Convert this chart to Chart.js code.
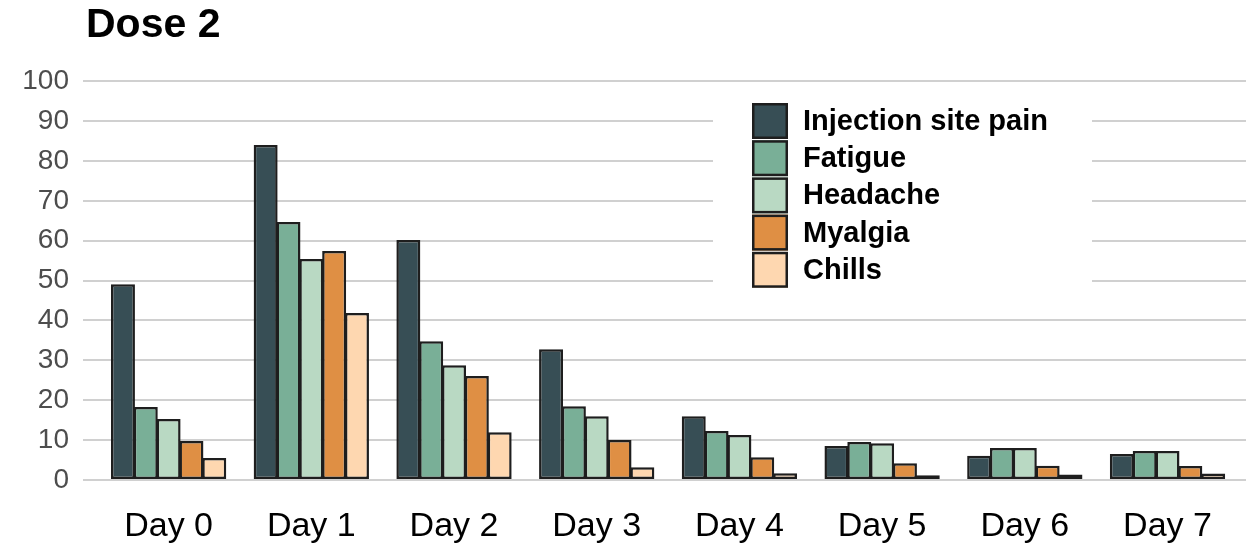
<!DOCTYPE html>
<html>
<head>
<meta charset="utf-8">
<script src="https://cdn.jsdelivr.net/npm/chart.js@4"></script>
<style>
  html, body { margin: 0; padding: 0; background: #fff; }
  #wrap { width: 1246px; height: 550px; }
</style>
</head>
<body>
<div id="wrap"><canvas id="dose2"></canvas></div>
<script>
const day_labels = ['Day 0', 'Day 1', 'Day 2', 'Day 3', 'Day 4', 'Day 5', 'Day 6', 'Day 7'];
const y_ticks = [0, 10, 20, 30, 40, 50, 60, 70, 80, 90, 100];

const injection_site_pain = [49.1, 84.0, 60.2, 32.8, 16.0, 8.5, 6.1, 6.5];
const fatigue = [18.3, 64.7, 34.8, 18.5, 12.3, 9.5, 8.0, 7.3];
const headache = [15.3, 55.4, 28.8, 16.0, 11.3, 9.2, 8.0, 7.3];
const myalgia = [9.8, 57.4, 26.1, 10.0, 5.7, 4.2, 3.6, 3.5];
const chills = [5.5, 41.9, 12.0, 3.2, 1.7, 1.2, 1.4, 1.6];

const series_names = ['Injection site pain', 'Fatigue', 'Headache', 'Myalgia', 'Chills'];
const series_values = [injection_site_pain, fatigue, headache, myalgia, chills];
const series_colors = ['#374e55', '#79af97', '#b9d9c3', '#df8f44', '#fed7b0'];

const font_family = "'Liberation Sans', Arial, Helvetica, sans-serif";

function toPoints(values){
    return values.map((v, i) => ({x: i, y: v}));
}

// legend drawn inside the plot, top right, on a white patch
const insideLegend = {
    id: 'insideLegend',
    afterLayout(chart){
        // nudge the title a little to the right, like the original
        if (chart.titleBlock) chart.titleBlock.left += 3;
    },
    afterDraw(chart){
        const ctx = chart.ctx;
        const x0 = 752, y0 = 103, box = 36, row = 37.2;
        ctx.save();
        ctx.fillStyle = '#ffffff';
        ctx.fillRect(713, 93, 379, 206);
        ctx.font = 'bold 29px ' + font_family;
        ctx.textBaseline = 'middle';
        ctx.textAlign = 'left';
        chart.data.datasets.forEach((ds, i) => {
            const y = y0 + i * row;
            ctx.fillStyle = ds.backgroundColor;
            ctx.fillRect(x0, y, box, box);
            ctx.lineWidth = 2.5;
            ctx.strokeStyle = '#1e1e1e';
            ctx.strokeRect(x0 + 1.25, y + 1.25, box - 2.5, box - 2.5);
            ctx.fillStyle = '#000000';
            ctx.fillText(ds.label, 803, y + box / 2 + 1);
        });
        ctx.restore();
    }
};

const ctx = document.getElementById('dose2').getContext('2d');
const dose2_chart = new Chart(ctx, {
    type: 'bar',
    data: {
        datasets: series_names.map((name, i) => ({
            label: name,
            data: toPoints(series_values[i]),
            backgroundColor: series_colors[i],
            borderColor: '#1e1e1e',
            borderWidth: 2.5,
            borderSkipped: false,
            categoryPercentage: 0.8,
            barPercentage: 1.05
        }))
    },
    options: {
        responsive: true,
        maintainAspectRatio: false,
        animation: false,
        layout: { padding: { left: 0, right: 0, top: 0, bottom: 0 } },
        plugins: {
            legend: { display: false },
            tooltip: { enabled: false },
            title: {
                display: true,
                text: 'Dose 2',
                align: 'start',
                fullSize: false,
                color: '#000000',
                font: { family: font_family, size: 41, weight: 'bold' },
                padding: { top: 1, bottom: 31 }
            }
        },
        scales: {
            x: {
                type: 'linear',
                offset: false,
                min: -0.6,
                max: 7.55,
                grid: { display: false, drawTicks: false, offset: false },
                border: { display: false },
                afterBuildTicks(scale){
                    scale.ticks = day_labels.map((d, i) => ({value: i}));
                },
                afterFit(scale){
                    scale.height = 70;
                },
                ticks: {
                    autoSkip: false,
                    maxRotation: 0,
                    padding: 26,
                    color: '#000000',
                    font: { family: font_family, size: 34 },
                    callback: (v) => day_labels[v]
                }
            },
            y: {
                min: 0,
                max: 100,
                grid: { color: '#d0d0d0', lineWidth: 2, drawTicks: false },
                border: { display: false },
                afterBuildTicks(scale){
                    scale.ticks = y_ticks.map(v => ({value: v}));
                },
                afterFit(scale){
                    scale.width = 83;
                },
                ticks: {
                    padding: 14,
                    color: '#4d4d4d',
                    font: { family: font_family, size: 28 }
                }
            }
        }
    },
    plugins: [insideLegend]
});
</script>
</body>
</html>
